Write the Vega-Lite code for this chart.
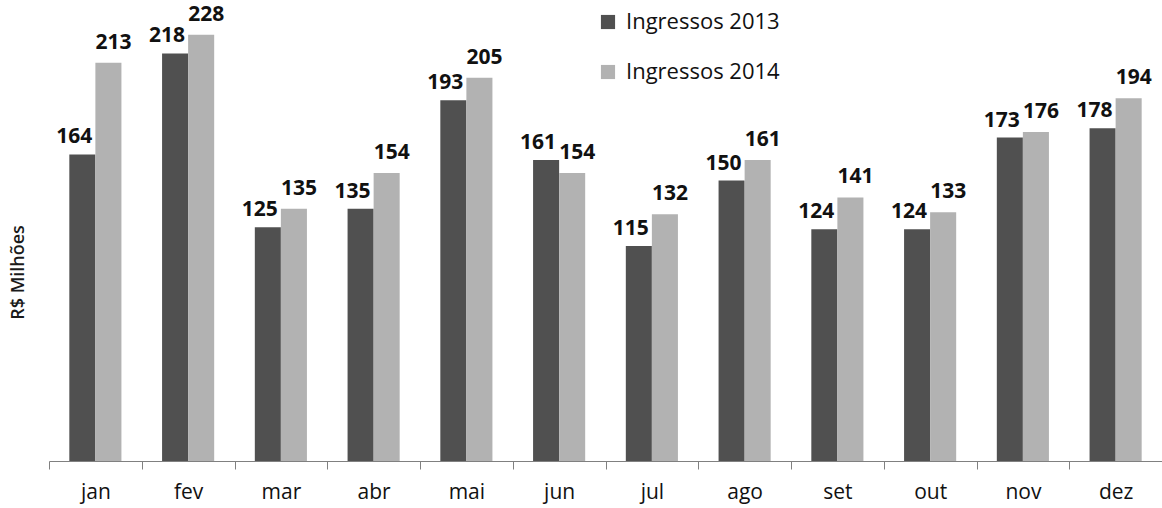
{
  "$schema": "https://vega.github.io/schema/vega-lite/v6.json",
  "width": 1113,
  "height": 458,
  "autosize": {"type": "none"},
  "padding": {"left": 49, "top": 3, "right": 0, "bottom": 47},
  "background": "white",
  "config": {
    "view": {"stroke": null},
    "font": "Open Sans"
  },
  "data": {
    "values": [
      {"mes": "jan", "serie": "Ingressos 2013", "valor": 164},
      {"mes": "jan", "serie": "Ingressos 2014", "valor": 213},
      {"mes": "fev", "serie": "Ingressos 2013", "valor": 218},
      {"mes": "fev", "serie": "Ingressos 2014", "valor": 228},
      {"mes": "mar", "serie": "Ingressos 2013", "valor": 125},
      {"mes": "mar", "serie": "Ingressos 2014", "valor": 135},
      {"mes": "abr", "serie": "Ingressos 2013", "valor": 135},
      {"mes": "abr", "serie": "Ingressos 2014", "valor": 154},
      {"mes": "mai", "serie": "Ingressos 2013", "valor": 193},
      {"mes": "mai", "serie": "Ingressos 2014", "valor": 205},
      {"mes": "jun", "serie": "Ingressos 2013", "valor": 161},
      {"mes": "jun", "serie": "Ingressos 2014", "valor": 154},
      {"mes": "jul", "serie": "Ingressos 2013", "valor": 115},
      {"mes": "jul", "serie": "Ingressos 2014", "valor": 132},
      {"mes": "ago", "serie": "Ingressos 2013", "valor": 150},
      {"mes": "ago", "serie": "Ingressos 2014", "valor": 161},
      {"mes": "set", "serie": "Ingressos 2013", "valor": 124},
      {"mes": "set", "serie": "Ingressos 2014", "valor": 141},
      {"mes": "out", "serie": "Ingressos 2013", "valor": 124},
      {"mes": "out", "serie": "Ingressos 2014", "valor": 133},
      {"mes": "nov", "serie": "Ingressos 2013", "valor": 173},
      {"mes": "nov", "serie": "Ingressos 2014", "valor": 176},
      {"mes": "dez", "serie": "Ingressos 2013", "valor": 178},
      {"mes": "dez", "serie": "Ingressos 2014", "valor": 194}
    ]
  },
  "encoding": {
    "x": {
      "field": "mes",
      "type": "nominal",
      "sort": ["jan","fev","mar","abr","mai","jun","jul","ago","set","out","nov","dez"],
      "scale": {"paddingInner": 0, "paddingOuter": 0},
      "axis": {
        "title": null,
        "labelAngle": 0,
        "labelFontSize": 21,
        "labelColor": "#111111",
        "labelPadding": 12,
        "tickBand": "extent",
        "tickSize": 8,
        "tickColor": "#808080",
        "domainColor": "#808080",
        "domainWidth": 1
      }
    },
    "xOffset": {"field": "serie", "type": "nominal", "scale": {"paddingInner": 0, "paddingOuter": 0.78}},
    "y": {
      "field": "valor",
      "type": "quantitative",
      "scale": {"domain": [0, 245], "nice": false},
      "axis": {
        "title": "R$ Milhões",
        "titleFontSize": 18,
        "titleFontWeight": 600,
        "titleColor": "#1a1a1a",
        "titleAngle": -90,
        "titleX": -31,
        "titleY": 269,
        "titleAlign": "center",
        "titleBaseline": "middle",
        "labels": false,
        "ticks": false,
        "domain": false,
        "grid": false
      }
    }
  },
  "layer": [
    {
      "mark": {"type": "bar"},
      "encoding": {
        "color": {
          "field": "serie",
          "type": "nominal",
          "scale": {"domain": ["Ingressos 2013", "Ingressos 2014"], "range": ["#505050", "#b2b2b2"]},
          "legend": {
            "title": null,
            "orient": "none",
            "legendX": 548,
            "legendY": 8,
            "padding": 0,
            "symbolType": "square",
            "symbolSize": 200,
            "symbolStrokeWidth": 0,
            "labelFontSize": 22,
            "labelColor": "#111111",
            "labelOffset": 7,
            "rowPadding": 28
          }
        }
      }
    },
    {
      "transform": [{"filter": "datum.serie === 'Ingressos 2013'"}],
      "mark": {"type": "text", "baseline": "bottom", "dy": -7, "dx": -8, "fontSize": 21, "fontWeight": "bold", "color": "#111111"},
      "encoding": {
        "text": {"field": "valor", "type": "quantitative"}
      }
    },
    {
      "transform": [{"filter": "datum.serie === 'Ingressos 2014'"}],
      "mark": {"type": "text", "baseline": "bottom", "dy": -10, "dx": 5, "fontSize": 21, "fontWeight": "bold", "color": "#111111"},
      "encoding": {
        "text": {"field": "valor", "type": "quantitative"}
      }
    }
  ]
}
